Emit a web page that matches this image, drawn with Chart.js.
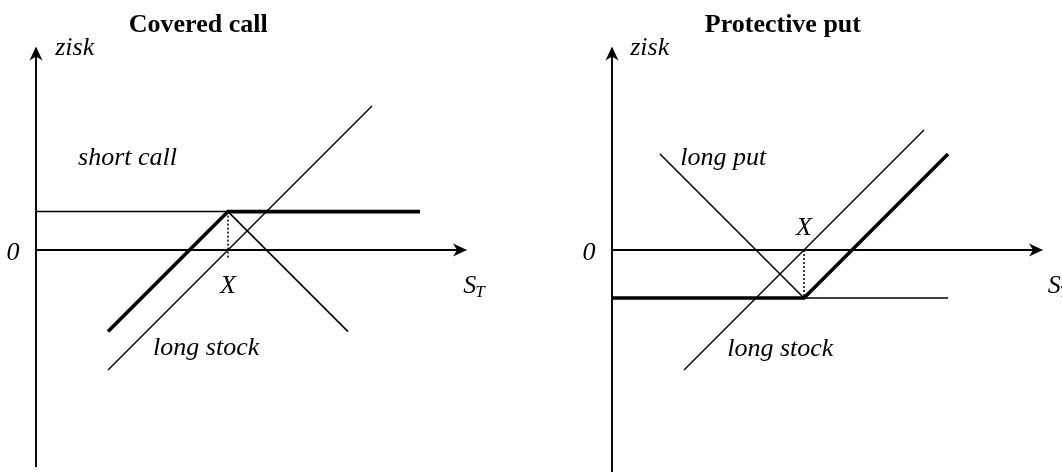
<!DOCTYPE html>
<html>
<head>
<meta charset="utf-8">
<script src="https://cdn.jsdelivr.net/npm/chart.js@4/dist/chart.umd.min.js"></script>
<style>
  html, body { margin: 0; padding: 0; background: #fff; }
  #wrap { position: relative; width: 1062px; height: 472px; overflow: hidden; }
  canvas { position: absolute; top: 0; }
  #ccCanvas { left: 0; }
  #ppCanvas { left: 531px; }
</style>
</head>
<body>
<div id="wrap">
  <canvas id="ccCanvas" width="531" height="472"></canvas>
  <canvas id="ppCanvas" width="531" height="472"></canvas>
</div>
<script>
// Výplatní diagramy opcí: covered call a protective put (realizační cena X = 10)

// ---- data: S_T (cena akcie při expiraci) a zisk ----
var CC_TITLE = 'Covered call';
var PP_TITLE = 'Protective put';
var Y_AXIS_LABEL = 'zisk';
var X_AXIS_LABEL = ['S', 'T'];
var ORIGIN_LABEL = '0';
var STRIKE_LABEL = 'X';
var STRIKE = 10;

// covered call
var ccStockS = [3.75, 17.5];
var ccStockP = [-6.25, 7.5];
var ccShortCallS = [0, 10, 16.25];
var ccShortCallP = [2, 2, -4.25];
var ccTotalS = [3.75, 10, 20];
var ccTotalP = [-4.25, 2, 2];
var ccNotes = ['short call', 'long stock'];

// protective put
var ppStockS = [3.75, 16.25];
var ppStockP = [-6.25, 6.25];
var ppLongPutS = [2.5, 10, 17.5];
var ppLongPutP = [5, -2.5, -2.5];
var ppTotalS = [0, 10, 17.5];
var ppTotalP = [-2.5, -2.5, 5];
var ppNotes = ['long put', 'long stock'];

var SERIF = '"Liberation Serif", "Times New Roman", serif';

function toPoints(xs, ys) {
  return xs.map(function (x, i) { return { x: x, y: ys[i] }; });
}

function lineSet(xs, ys, width, dash) {
  return {
    data: toPoints(xs, ys),
    showLine: true,
    borderColor: '#000',
    borderWidth: width,
    borderDash: dash || [],
    pointRadius: 0,
    tension: 0,
    fill: false,
    clip: false
  };
}

function arrowHead(ctx, x, y, dx, dy) {
  var L = 14, W = 6.5, N = 10;
  var nx = -dy, ny = dx;
  ctx.beginPath();
  ctx.moveTo(x, y);
  ctx.lineTo(x - dx * L + nx * W, y - dy * L + ny * W);
  ctx.lineTo(x - dx * N, y - dy * N);
  ctx.lineTo(x - dx * L - nx * W, y - dy * L - ny * W);
  ctx.closePath();
  ctx.fill();
}

// osy se šipkami + popisky (Chart.js vlastní osy jsou skryté)
var diagramPlugin = {
  id: 'diagram',
  beforeDatasetsDraw: function (chart, args, o) {
    var ctx = chart.ctx;
    var xs = chart.scales.x, ys = chart.scales.y;
    var x0 = xs.getPixelForValue(0), y0 = ys.getPixelForValue(0);
    var yTop = ys.getPixelForValue(o.yAxisTo);
    var yBot = ys.getPixelForValue(o.yAxisFrom);
    var xEnd = xs.getPixelForValue(o.xAxisTo);
    ctx.save();
    ctx.strokeStyle = '#000';
    ctx.fillStyle = '#000';
    ctx.lineWidth = 1.9;
    ctx.beginPath();
    ctx.moveTo(x0, yBot);
    ctx.lineTo(x0, yTop + 4);
    ctx.moveTo(x0, y0);
    ctx.lineTo(xEnd - 4, y0);
    ctx.stroke();
    arrowHead(ctx, x0, yTop, 0, -1);
    arrowHead(ctx, xEnd, y0, 1, 0);
    ctx.restore();
  },
  afterDatasetsDraw: function (chart, args, o) {
    var ctx = chart.ctx;
    var xs = chart.scales.x, ys = chart.scales.y;
    function px(v) { return xs.getPixelForValue(v); }
    function py(v) { return ys.getPixelForValue(v); }
    ctx.save();
    ctx.fillStyle = '#000';
    ctx.textBaseline = 'alphabetic';

    ctx.font = 'bold 26px ' + SERIF;
    ctx.textAlign = 'center';
    ctx.fillText(o.title.text, px(o.title.x), py(o.title.y));

    ctx.font = 'italic 26px ' + SERIF;
    o.notes.forEach(function (n) {
      ctx.textAlign = n.align || 'left';
      ctx.fillText(n.text, px(n.x), py(n.y));
    });

    // S_T
    ctx.textAlign = 'left';
    var sx = px(o.sLabel.x), sy = py(o.sLabel.y);
    ctx.fillText(X_AXIS_LABEL[0], sx, sy);
    var w = ctx.measureText(X_AXIS_LABEL[0]).width;
    ctx.font = 'italic 17px ' + SERIF;
    ctx.fillText(X_AXIS_LABEL[1], sx + w - 1, sy + 4);
    ctx.restore();
  }
};

function makeChart(canvasId, datasets, xMin, notesCfg) {
  var unit = 19.2;                     // px na jednotku
  var xMax = xMin + 531 / unit;
  var yMax = 250 / unit;
  var yMin = yMax - 472 / unit;
  return new Chart(document.getElementById(canvasId), {
    type: 'scatter',
    data: { datasets: datasets },
    options: {
      responsive: false,
      animation: false,
      events: [],
      layout: { padding: 0 },
      scales: {
        x: { type: 'linear', display: false, min: xMin, max: xMax },
        y: { type: 'linear', display: false, min: yMin, max: yMax }
      },
      plugins: {
        legend: { display: false },
        tooltip: { enabled: false },
        diagram: notesCfg
      }
    },
    plugins: [diagramPlugin]
  });
}

makeChart('ccCanvas', [
  lineSet(ccStockS, ccStockP, 1.5),
  lineSet(ccShortCallS, ccShortCallP, 1.5),
  lineSet(ccTotalS, ccTotalP, 3.6),
  lineSet([STRIKE, STRIKE], [ccTotalP[1], -0.45], 1.5, [2, 2])
], -36 / 19.2, {
  yAxisFrom: -11.3, yAxisTo: 10.6, xAxisTo: 22.45,
  title: { text: CC_TITLE, x: 8.45, y: 11.35 },
  sLabel: { x: 22.25, y: -2.24 },
  notes: [
    { text: Y_AXIS_LABEL, x: 1.0, y: 10.16 },
    { text: ccNotes[0], x: 2.19, y: 4.43 },
    { text: ccNotes[1], x: 6.1, y: -5.47 },
    { text: STRIKE_LABEL, x: STRIKE, y: -2.24, align: 'center' },
    { text: ORIGIN_LABEL, x: -1.2, y: -0.52, align: 'center' }
  ]
});

makeChart('ppCanvas', [
  lineSet(ppStockS, ppStockP, 1.5),
  lineSet(ppLongPutS, ppLongPutP, 1.5),
  lineSet(ppTotalS, ppTotalP, 3.6),
  lineSet([STRIKE, STRIKE], [0, ppTotalP[1]], 1.5, [2, 2])
], -81 / 19.2, {
  yAxisFrom: -12, yAxisTo: 10.6, xAxisTo: 22.45,
  title: { text: PP_TITLE, x: 8.9, y: 11.35 },
  sLabel: { x: 22.7, y: -2.24 },
  notes: [
    { text: Y_AXIS_LABEL, x: 0.95, y: 10.16 },
    { text: ppNotes[0], x: 3.55, y: 4.43 },
    { text: ppNotes[1], x: 6.0, y: -5.5 },
    { text: STRIKE_LABEL, x: STRIKE, y: 0.78, align: 'center' },
    { text: ORIGIN_LABEL, x: -1.2, y: -0.52, align: 'center' }
  ]
});
</script>
</body>
</html>
